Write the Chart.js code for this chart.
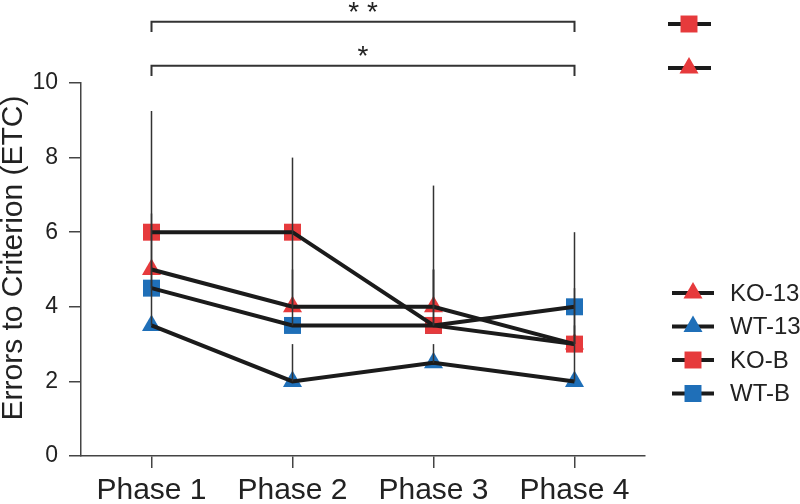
<!DOCTYPE html>
<html>
<head>
<meta charset="utf-8">
<script src="https://cdn.jsdelivr.net/npm/chart.js@4"></script>
<style>
  body { margin: 0; background: #fff; }
</style>
</head>
<body>
<canvas id="etcChart" width="800" height="504"></canvas>
<script>
let phases = ['Phase 1', 'Phase 2', 'Phase 3', 'Phase 4'];
let ko13 = [5, 4, 4, 3];
let wt13 = [3.5, 2, 2.5, 2];
let koB = [6, 6, 3.5, 3];
let wtB = [4.5, 3.5, 3.5, 4];
// top end of the upper error bar of each group
let ko13Err = [6.5, 6, 7.25, 4];
let wt13Err = [5, 3, 3, 3.5];
let koBErr = [9.25, 8, 5, 4.5];
let wtBErr = [6, 5, 5, 6];
let yTicks = [0, 2, 4, 6, 8, 10];
let sigMarks = ['* *', '*'];

const red = '#e63a3c';
const blue = '#1f6fb8';
const ink = '#1b1b1b';
const axisGrey = '#444';
const font = "'Liberation Sans', Arial, Helvetica, sans-serif";

// drawing order: first one ends up at the bottom
let groups = [
  {name: 'WT-B', data: wtB, err: wtBErr, color: blue, shape: 'rect'},
  {name: 'KO-B', data: koB, err: koBErr, color: red, shape: 'rect'},
  {name: 'WT-13', data: wt13, err: wt13Err, color: blue, shape: 'triangle'},
  {name: 'KO-13', data: ko13, err: ko13Err, color: red, shape: 'triangle'},
];
let legendOrder = ['KO-13', 'WT-13', 'KO-B', 'WT-B'];

function shapeRadius(shape) {
  return shape === 'rect' ? 12 : 11;
}

// same geometry as Chart.js uses for its point styles
function drawMarker(ctx, shape, color, x, y) {
  let r = shapeRadius(shape);
  ctx.fillStyle = color;
  ctx.beginPath();
  if (shape === 'rect') {
    let s = Math.SQRT1_2 * r;
    ctx.rect(x - s, y - s, 2 * s, 2 * s);
  } else {
    ctx.moveTo(x, y - r);
    ctx.lineTo(x + 0.866 * r, y + 0.5 * r);
    ctx.lineTo(x - 0.866 * r, y + 0.5 * r);
    ctx.closePath();
  }
  ctx.fill();
}

let datasets = [];
groups.forEach((g, i) => {
  // black connecting line, drawn over the markers
  datasets.push({
    label: g.name + ' line',
    data: g.data,
    borderColor: ink,
    borderWidth: 4,
    pointRadius: 0,
    fill: false,
    tension: 0,
    order: 1,
  });
  datasets.push({
    label: g.name,
    data: g.data,
    showLine: false,
    pointStyle: g.shape,
    pointRadius: shapeRadius(g.shape),
    pointHoverRadius: shapeRadius(g.shape),
    pointBackgroundColor: g.color,
    pointBorderWidth: 0,
    order: 10 - i,
  });
});

const extras = {
  id: 'extras',
  afterDatasetsDraw(chart) {
    let ctx = chart.ctx;
    let xs = chart.scales.x, ys = chart.scales.y;
    ctx.save();
    // upper error bars
    ctx.strokeStyle = '#333';
    ctx.lineWidth = 1.5;
    groups.forEach(g => {
      g.data.forEach((v, i) => {
        let x = xs.getPixelForValue(i);
        ctx.beginPath();
        ctx.moveTo(x, ys.getPixelForValue(v));
        ctx.lineTo(x, ys.getPixelForValue(g.err[i]));
        ctx.stroke();
      });
    });

    // significance brackets between phase 1 and phase 4
    let x1 = xs.getPixelForValue(0), x2 = xs.getPixelForValue(3);
    let brackets = [
      {bar: 11.64, tip: 11.37, star: 12.02, text: sigMarks[0]},
      {bar: 10.46, tip: 10.19, star: 10.86, text: sigMarks[1]},
    ];
    ctx.lineWidth = 2;
    ctx.font = '28px ' + font;
    ctx.fillStyle = '#222';
    ctx.textAlign = 'center';
    ctx.textBaseline = 'middle';
    brackets.forEach(b => {
      let yb = ys.getPixelForValue(b.bar), yt = ys.getPixelForValue(b.tip);
      ctx.beginPath();
      ctx.moveTo(x1, yt);
      ctx.lineTo(x1, yb);
      ctx.lineTo(x2, yb);
      ctx.lineTo(x2, yt);
      ctx.stroke();
      ctx.fillText(b.text, (x1 + x2) / 2, ys.getPixelForValue(b.star) + 6);
    });

    // y axis title
    ctx.save();
    ctx.translate(14, 258);
    ctx.rotate(-Math.PI / 2);
    ctx.font = '30px ' + font;
    ctx.fillStyle = '#222';
    ctx.fillText('Errors to Criterion (ETC)', 0, 0);
    ctx.restore();

    // legend
    function legendRow(name, lx1, lx2, mx, y, label) {
      let g = groups.find(q => q.name === name);
      ctx.strokeStyle = ink;
      ctx.lineWidth = 4;
      ctx.beginPath();
      ctx.moveTo(lx1, y);
      ctx.lineTo(lx2, y);
      ctx.stroke();
      drawMarker(ctx, g.shape, g.color, mx, y);
      if (label) {
        ctx.fillStyle = '#222';
        ctx.font = '24px ' + font;
        ctx.textAlign = 'left';
        ctx.fillText(label, 730, y + 1);
      }
    }
    legendRow('KO-B', 668, 711, 689, 24, '');
    legendRow('KO-13', 668, 711, 689, 68, '');
    legendOrder.forEach((name, i) => {
      legendRow(name, 672, 714, 693, 293 + i * 33.5, name);
    });
    ctx.restore();
  }
};

new Chart(document.getElementById('etcChart').getContext('2d'), {
  type: 'line',
  data: {
    labels: phases,
    datasets: datasets,
  },
  options: {
    responsive: false,
    animation: false,
    layout: {padding: {left: 0, top: 83, right: 155, bottom: 0}},
    plugins: {
      legend: {display: false},
      tooltip: {enabled: false},
    },
    scales: {
      x: {
        offset: true,
        afterFit: s => { s.height = 48; },
        border: {color: axisGrey, width: 1.5},
        grid: {drawOnChartArea: false, offset: false, tickLength: 12, color: axisGrey, lineWidth: 1.5},
        ticks: {color: '#222', padding: 5, font: {family: font, size: 30}},
      },
      y: {
        min: 0,
        max: 10,
        afterFit: s => { s.width = 81; },
        afterBuildTicks: s => { s.ticks = yTicks.map(v => ({value: v})); },
        border: {color: axisGrey, width: 1.5},
        grid: {drawOnChartArea: false, tickLength: 12, color: axisGrey, lineWidth: 1.5},
        ticks: {color: '#222', padding: 11, font: {family: font, size: 23}},
      },
    },
  },
  plugins: [extras],
});
</script>
</body>
</html>
